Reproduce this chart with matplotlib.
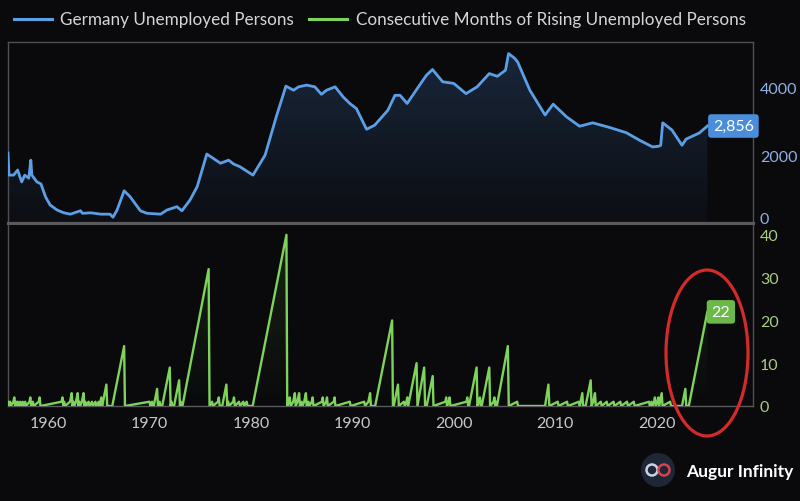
import matplotlib
matplotlib.use("Agg")
import matplotlib.pyplot as plt
import numpy as np
from matplotlib.patches import Polygon, Ellipse, Circle
from matplotlib.lines import Line2D

plt.rcParams['font.family'] = ['Lato', 'DejaVu Sans']

# ---------------- data ----------------
unemp_years = [1956.05, 1956.15, 1956.6, 1957.0, 1957.4, 1957.7, 1958.1, 1958.3, 1958.4, 1958.9,
               1959.3, 1959.75, 1960.2, 1960.9, 1961.55, 1962.2, 1963.2, 1963.4, 1964.2, 1965.2,
               1966.1, 1966.4, 1966.8, 1967.5, 1968.1, 1969.1, 1969.75, 1971.1, 1971.7, 1972.7,
               1973.2, 1974.0, 1974.7, 1975.65, 1976.3, 1977.0, 1977.8, 1978.3, 1978.9, 1980.2,
               1981.4, 1982.5, 1983.45, 1984.2, 1984.7, 1985.5, 1986.3, 1986.95, 1987.45, 1988.3,
               1989.1, 1989.75, 1990.4, 1991.4, 1992.2, 1993.5, 1994.2, 1994.7, 1995.4, 1996.4,
               1997.3, 1997.9, 1998.9, 2000.0, 2001.2, 2002.3, 2003.5, 2004.3, 2005.1, 2005.4,
               2006.0, 2006.3, 2007.5, 2009.0, 2009.8, 2011.1, 2012.4, 2013.7, 2015.4, 2017.0,
               2018.3, 2019.6, 2020.2, 2020.4, 2020.6, 2021.5, 2022.5, 2022.9, 2024.2, 2025.0]
unemp_thousands = [2060, 1410, 1410, 1560, 1210, 1410, 1320, 1850, 1410, 1210,
                   1150, 770, 530, 380, 300, 260, 360, 285, 300, 260,
                   260, 170, 380, 950, 770, 360, 285, 260, 380, 480,
                   360, 680, 1070, 2030, 1900, 1760, 1850, 1735, 1660, 1410,
                   2000, 3130, 4030, 3910, 4010, 4060, 4010, 3790, 3910, 4010,
                   3710, 3520, 3370, 2760, 2880, 3320, 3760, 3760, 3520, 3960,
                   4350, 4520, 4160, 4110, 3810, 4010, 4400, 4320, 4500, 4990,
                   4850, 4740, 3910, 3180, 3500, 3130, 2850, 2950, 2810, 2660,
                   2440, 2240, 2260, 2290, 2950, 2740, 2290, 2470, 2650, 2856]

rise_years = [1956.00, 1956.08, 1956.17, 1956.25, 1956.33, 1956.58, 1956.67, 1956.75, 1956.83, 1956.92,
              1957.00, 1957.08, 1957.25, 1957.33, 1957.50, 1957.58, 1957.75, 1957.83, 1958.17, 1958.25,
              1958.33, 1958.50, 1958.58, 1959.08, 1959.17, 1959.25, 1961.33, 1961.42, 1961.50, 1961.58,
              1961.67, 1962.17, 1962.33, 1962.42, 1962.50, 1962.58, 1962.75, 1962.92, 1963.00, 1963.08,
              1963.17, 1963.33, 1963.50, 1963.58, 1963.67, 1963.75, 1964.00, 1964.08, 1964.33, 1964.42,
              1964.67, 1964.75, 1965.00, 1965.08, 1965.17, 1965.25, 1965.33, 1965.42, 1965.75, 1965.83,
              1966.33, 1967.50, 1967.58, 1970.00, 1970.08, 1970.25, 1970.33, 1970.42, 1970.75, 1970.83,
              1971.00, 1971.08, 1971.25, 1972.00, 1972.08, 1972.17, 1972.25, 1972.42, 1972.92, 1973.00,
              1973.08, 1973.17, 1973.25, 1975.83, 1975.92, 1976.17, 1976.25, 1976.75, 1976.83, 1976.92,
              1977.17, 1977.58, 1977.67, 1977.75, 1977.83, 1978.25, 1978.33, 1978.42, 1978.83, 1978.92,
              1979.25, 1979.33, 1979.58, 1979.67, 1980.17, 1983.50, 1983.58, 1983.75, 1983.83, 1983.92,
              1984.17, 1984.33, 1984.42, 1984.58, 1984.75, 1984.83, 1985.00, 1985.08, 1985.25, 1985.42,
              1985.50, 1985.67, 1985.75, 1986.00, 1986.08, 1986.17, 1987.00, 1987.08, 1987.17, 1987.42,
              1987.50, 1987.58, 1988.17, 1988.25, 1988.33, 1989.75, 1989.83, 1991.17, 1991.25, 1991.58,
              1991.75, 1991.83, 1992.25, 1993.92, 1994.00, 1994.08, 1994.50, 1994.58, 1995.08, 1995.17,
              1995.33, 1995.42, 1995.50, 1996.33, 1996.42, 1997.08, 1997.17, 1997.33, 1997.92, 1998.00,
              1999.17, 1999.25, 1999.33, 1999.50, 1999.58, 1999.67, 2001.25, 2001.33, 2001.42, 2001.50,
              2002.25, 2002.33, 2002.50, 2002.58, 2002.67, 2002.75, 2003.50, 2003.58, 2003.92, 2004.00,
              2004.08, 2004.17, 2004.25, 2005.33, 2005.42, 2006.25, 2006.33, 2009.00, 2009.33, 2009.42,
              2010.25, 2010.33, 2011.17, 2011.25, 2012.33, 2012.42, 2012.50, 2012.67, 2012.75, 2013.00,
              2013.50, 2013.58, 2013.75, 2013.92, 2014.00, 2014.50, 2014.58, 2015.08, 2015.17, 2015.75,
              2015.83, 2016.42, 2016.50, 2017.08, 2017.17, 2017.75, 2017.83, 2019.25, 2019.33, 2019.50,
              2019.58, 2019.75, 2019.83, 2019.92, 2020.08, 2020.17, 2020.25, 2020.33, 2020.50, 2020.58,
              2021.33, 2021.42, 2022.50, 2022.83, 2022.92, 2023.17, 2025.00]
rise_months = [0, 1, 0, 1, 0, 1, 2, 0, 1, 0,
               1, 0, 1, 0, 1, 0, 1, 0, 1, 2,
               0, 1, 0, 1, 2, 0, 1, 2, 0, 1,
               0, 1, 3, 0, 1, 0, 1, 3, 0, 1,
               0, 1, 3, 0, 1, 0, 1, 0, 1, 0,
               1, 0, 1, 0, 1, 2, 0, 1, 5, 0,
               0, 14, 0, 1, 0, 1, 0, 0, 4, 0,
               1, 0, 0, 9, 0, 1, 0, 0, 6, 0,
               1, 0, 0, 32, 0, 1, 0, 1, 2, 0,
               0, 5, 0, 1, 0, 1, 2, 0, 1, 0,
               1, 0, 1, 0, 0, 40, 0, 1, 2, 0,
               1, 3, 0, 1, 3, 0, 1, 0, 1, 3,
               0, 1, 0, 1, 2, 0, 1, 2, 0, 1,
               2, 0, 1, 2, 0, 1, 0, 1, 0, 1,
               3, 0, 0, 20, 0, 0, 5, 0, 1, 0,
               1, 2, 0, 10, 0, 9, 0, 0, 7, 0,
               1, 2, 0, 1, 2, 0, 1, 2, 0, 0,
               9, 0, 1, 2, 0, 0, 9, 0, 1, 2,
               0, 1, 0, 14, 0, 1, 0, 0, 5, 0,
               1, 0, 1, 0, 1, 0, 1, 3, 0, 0,
               6, 0, 1, 3, 0, 1, 0, 1, 0, 1,
               0, 1, 0, 1, 0, 1, 0, 1, 0, 1,
               0, 1, 2, 0, 1, 2, 0, 1, 3, 0,
               1, 0, 0, 4, 0, 0, 22]

x_ticks = [1960, 1970, 1980, 1990, 2000, 2010, 2020]
top_ticks = [0, 2000, 4000]
bot_ticks = [0, 10, 20, 30, 40]
last_unemp_label = "2,856"
last_rise_label = "22"

series_names = ["Germany Unemployed Persons", "Consecutive Months of Rising Unemployed Persons"]

# ---------------- style ----------------
BG = '#0a0a0c'
BLUE = '#5b9fe6'
GREEN = '#7ed35a'
GRID = '#4f4f54'
W, H = 800, 502

fig = plt.figure(figsize=(8, 5.02), dpi=100, facecolor=BG)


def fx(px):
    return px / W


def fy(py):
    return 1 - py / H


ax1 = fig.add_axes([fx(8), fy(224), fx(753) - fx(8), fy(43) - fy(224)])
ax2 = fig.add_axes([fx(8), fy(407), fx(753) - fx(8), fy(226) - fy(407)])
XMIN, XMAX = 1956.05, 2029.5


def grad_fill(ax, x, y, rgb, a_top, a_bot, y0, ytop):
    verts = [(x[0], y0)] + list(zip(x, y)) + [(x[-1], y0)]
    poly = Polygon(verts, closed=True, fc='none', ec='none')
    ax.add_patch(poly)
    n = 256
    arr = np.zeros((n, 1, 4))
    arr[:, :, 0] = rgb[0]
    arr[:, :, 1] = rgb[1]
    arr[:, :, 2] = rgb[2]
    arr[:, 0, 3] = np.linspace(a_top, a_bot, n)
    im = ax.imshow(arr, extent=[x[0], x[-1], y0, ytop], origin='upper',
                   aspect='auto', zorder=1, interpolation='bilinear')
    im.set_clip_path(poly)


for ax in (ax1, ax2):
    ax.set_facecolor(BG)
    for s in ax.spines.values():
        s.set_color(GRID)
        s.set_linewidth(1.0)

# top panel
grad_fill(ax1, unemp_years, unemp_thousands, (0.30, 0.55, 0.88), 0.22, 0.03, 0, max(unemp_thousands))
ax1.plot(unemp_years, unemp_thousands, color=BLUE, lw=2.0, zorder=3, solid_joinstyle='round')
ax1.set_xlim(XMIN, XMAX)
ax1.set_ylim(0, 5330)
ax1.yaxis.tick_right()
ax1.set_yticks(top_ticks)
ax1.set_yticklabels([str(t) for t in top_ticks])
ax1.tick_params(axis='y', length=0, pad=5, labelsize=11.5, labelcolor='#8fb2e6')
ax1.get_yticklabels()[0].set_va('baseline')
ax1.set_xticks([])
ax1.spines['bottom'].set_linewidth(2.3)
ax1.spines['bottom'].set_color('#5a5a5e')
ax1.annotate(last_unemp_label, xy=(unemp_years[-1], unemp_thousands[-1]), xytext=(4, 0),
             textcoords='offset points', ha='left', va='center', color='white', fontsize=11.5,
             bbox=dict(boxstyle='round,pad=0.3,rounding_size=0.2', fc='#4a8edb', ec='none'),
             zorder=5, annotation_clip=False)

# bottom panel
grad_fill(ax2, rise_years, rise_months, (0.45, 0.80, 0.30), 0.14, 0.0, 0, max(rise_months))
ax2.plot(rise_years, rise_months, color=GREEN, lw=1.7, zorder=3, solid_joinstyle='round')
ax2.set_xlim(XMIN, XMAX)
ax2.set_ylim(0, 42.3)
ax2.yaxis.tick_right()
ax2.set_yticks(bot_ticks)
ax2.set_yticklabels([str(t) for t in bot_ticks])
ax2.tick_params(axis='y', length=0, pad=5, labelsize=11.5, labelcolor='#a9cf7e')
ax2.set_xticks(x_ticks)
ax2.set_xticklabels([str(t) for t in x_ticks])
ax2.tick_params(axis='x', length=0, pad=7, labelsize=11.5, labelcolor='#c8c8c8')
ax2.spines['top'].set_visible(False)
ax2.spines['bottom'].set_color('#5a5a5e')
ax2.annotate(last_rise_label, xy=(rise_years[-1], rise_months[-1]), xytext=(3, 0),
             textcoords='offset points', ha='left', va='center', color='white', fontsize=11.5,
             bbox=dict(boxstyle='round,pad=0.3,rounding_size=0.2', fc='#6cb84a', ec='none'),
             zorder=5, annotation_clip=False)

# legend
fig.add_artist(Line2D([fx(14), fx(52)], [fy(20), fy(20)], color=BLUE, lw=2.2, transform=fig.transFigure))
fig.text(fx(60), fy(20), series_names[0], color='#d6d6d6', fontsize=12.3, va='center', ha='left')
fig.add_artist(Line2D([fx(309), fx(347)], [fy(20), fy(20)], color=GREEN, lw=2.2, transform=fig.transFigure))
fig.text(fx(356), fy(20), series_names[1], color='#d6d6d6', fontsize=12.3, va='center', ha='left')

# overlay: annotation ellipse and logo
ov = fig.add_axes([0, 0, 1, 1], zorder=10)
ov.set_xlim(0, W)
ov.set_ylim(H, 0)
ov.axis('off')
ov.patch.set_alpha(0)
ov.add_patch(Ellipse((707, 354), 82, 166, fill=False, ec='#d42a2a', lw=2.3))
ov.add_patch(Circle((658, 471), 17, fc='#1d2735', ec='none'))
ov.add_patch(Circle((652, 471), 5.5, fill=False, ec='#c9d3e6', lw=1.8))
ov.add_patch(Circle((664, 471), 5.5, fill=False, ec='#d9404e', lw=1.8))
ov.text(686, 472, 'Augur Infinity', color='white', fontsize=12.5, fontweight='bold', va='center', ha='left')

fig.savefig('out.png', dpi=100, facecolor=BG)
